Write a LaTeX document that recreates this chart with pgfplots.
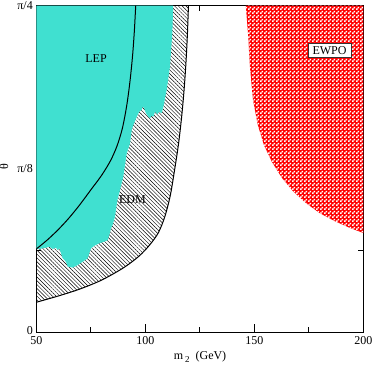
\documentclass[border=0pt]{standalone}
\usepackage{fontspec}
\setmainfont{Liberation Serif}
\usepackage{pgfplots}
\pgfplotsset{compat=1.18}
\usetikzlibrary{patterns,patterns.meta}
\definecolor{lep}{RGB}{64,224,208}
% white squares laid over a red fill give the red/white checkerboard
\pgfdeclarepatternformonly{finecheck}{\pgfpointorigin}{\pgfqpoint{4pt}{4pt}}{\pgfqpoint{4pt}{4pt}}{
  \pgfpathrectangle{\pgfqpoint{0.05pt}{0.05pt}}{\pgfqpoint{1.9pt}{1.9pt}}
  \pgfpathrectangle{\pgfqpoint{2.05pt}{2.05pt}}{\pgfqpoint{1.9pt}{1.9pt}}
  \pgfusepath{fill}}

\begin{document}
\begin{tikzpicture}
\begin{axis}[
  scale only axis, width=327pt, height=326.6pt,
  xmin=50, xmax=200, ymin=0, ymax=2,
  xtick={50,100,150,200}, minor xtick={75,125,175},
  ytick={0,1,2}, yticklabels={\raisebox{3pt}{0},π/8,π/4}, minor ytick={0.5,1.5},
  xtick pos=both, ytick pos=both, tick align=inside,
  major tick length=8pt, minor tick length=5pt,
  tick style={black, line width=0.7pt},
  axis line style={line width=0.8pt},
  /pgf/number format/assume math mode=true,
  tick label style={font=\fontsize{12}{14}\selectfont},
  xticklabel style={yshift=-1pt},
  every axis plot/.append style={line join=round},
]
  % EDM band (hatched), the part above is covered by LEP
  \addplot[draw=none, pattern={Lines[angle=-45,distance=2.7pt,line width=0.45pt]}, pattern color=black]
    coordinates {(50,0.184) (60,0.222) (70,0.265) (80,0.32) (90,0.395) (97,0.465) (102,0.535)
      (106,0.61) (109,0.71) (111.5,0.84) (113.5,1.0) (115.2,1.15) (116.6,1.31) (117.7,1.47)
      (118.6,1.64) (119.3,1.82) (119.8,2.0) (50,2.0)} -- cycle;

  % LEP excluded region
  \addplot[draw=none, fill=lep] coordinates {
    (50,2.0) (112.8,2.0) (112.4,1.831) (111.3,1.626) (109.8,1.484) (108.3,1.381) (107.5,1.341)
    (106.4,1.351) (105.5,1.335) (104.5,1.351) (103.7,1.320) (102.9,1.326) (102.2,1.310)
    (101.4,1.320) (100.3,1.341) (99.4,1.375) (98.8,1.381) (98.3,1.361) (97.2,1.351)
    (96.1,1.320) (94.5,1.269) (93.8,1.239) (93.0,1.157) (91.5,1.096) (89.9,0.953) (88.4,0.871)
    (87.2,0.810) (86.1,0.708) (85.0,0.657) (84.3,0.637) (83.5,0.596) (82.8,0.565) (81.2,0.555)
    (78.9,0.545) (76.6,0.530) (75.1,0.514) (74.3,0.484) (73.6,0.453) (71.3,0.432) (69.0,0.412)
    (66.7,0.396) (64.4,0.402) (63.6,0.432) (62.1,0.453) (61.3,0.484) (60.6,0.514) (59.8,0.504)
    (59.0,0.518) (57.5,0.510) (56.0,0.524) (54.4,0.518) (51.4,0.510) (50,0.510)} -- cycle;

  % EWPO excluded region
  \addplot[draw=none, fill=red, postaction={pattern=finecheck, pattern color=white}] coordinates {
    (146.1,2.0) (147.1,1.833) (148.0,1.626) (149.4,1.423) (151.6,1.27) (154.4,1.147)
    (158.1,1.043) (162.7,0.945) (167.7,0.865) (173.7,0.791) (180.1,0.729) (187.0,0.68)
    (193.9,0.639) (200,0.608) (200,2.0)} -- cycle;

  % EDM contours
  \addplot[black, line width=1pt, smooth] coordinates {
    (50,0.184) (60,0.222) (70,0.265) (80,0.32) (90,0.395) (97,0.465) (102,0.535)
    (106,0.61) (109,0.71) (111.5,0.84) (113.5,1.0) (115.2,1.15) (116.6,1.31) (117.7,1.47)
    (118.6,1.64) (119.3,1.82) (119.8,2.0)};
  \addplot[black, line width=1pt, smooth] coordinates {
    (50,0.51) (55,0.565) (60,0.628) (65,0.7) (70,0.782) (75,0.872) (80,0.962) (84,1.05)
    (87,1.14) (89.5,1.25) (91.5,1.39) (93,1.54) (94.2,1.7) (95,1.85) (95.6,2.0)};

  \node[font=\fontsize{12}{14}\selectfont] at (axis cs:77.4,1.674) {LEP};
  \node[font=\fontsize{12}{14}\selectfont] at (axis cs:94.1,0.81) {EDM};
  \node[font=\fontsize{12}{14}\selectfont, draw=black!80, line width=0.5pt, fill=white,
        inner xsep=4.5pt, inner ysep=3pt] at (axis cs:184.5,1.727) {EWPO};

  \coordinate (SW) at (rel axis cs:0,0);
  \coordinate (NE) at (rel axis cs:1,1);
\end{axis}
\node[rotate=90, font=\fontsize{12}{14}\selectfont] at ([shift={(-32.3pt,165.3pt)}]SW) {θ};
\node[anchor=base, font=\fontsize{12}{14}\selectfont] at ([shift={(163.7pt,-27pt)}]SW)
  {m\,\raisebox{-3pt}{\fontsize{9}{10}\selectfont 2}\ \ (GeV)};
\pgfresetboundingbox
\path ([shift={(-36.3pt,-33.7pt)}]SW) rectangle ([shift={(10.7pt,5.7pt)}]NE);
\end{tikzpicture}
\end{document}
